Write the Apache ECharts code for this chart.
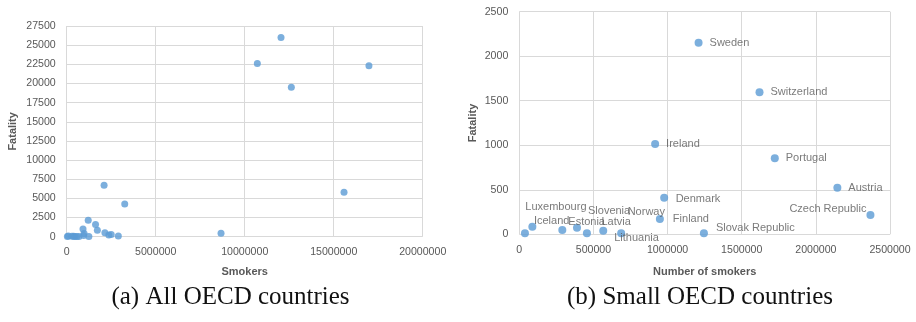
<!DOCTYPE html>
<html>
<head>
<meta charset="utf-8">
<script src="https://cdn.jsdelivr.net/npm/echarts@6/dist/echarts.min.js"></script>
<style>
html,body{margin:0;padding:0;background:#fff;}
#chart{width:916px;height:322px;}
</style>
</head>
<body>
<div id="chart"></div>
<script>
// ---- Data ----
// (b) Small OECD countries
const smallNames = ['Iceland','Luxembourg','Estonia','Slovenia','Latvia','Lithuania','Norway','Finland','Denmark','Slovak Republic','Ireland','Sweden','Switzerland','Portugal','Austria','Czech Republic'];
const smallSmokers = [38000, 88000, 290000, 389000, 456000, 566000, 687000, 948000, 977000, 1245000, 916000, 1209000, 1620000, 1723000, 2145000, 2368000];
const smallFatality = [12, 85, 48, 74, 12, 40, 12, 172, 411, 12, 1014, 2152, 1595, 854, 524, 217];
// (a) remaining OECD countries (unlabelled in the picture)
const otherSmokers = [12040000, 10710000, 12620000, 16980000, 15580000, 8670000, 2100000, 3260000, 2500000, 2900000];
const otherFatality = [26000, 22600, 19500, 22300, 5800, 440, 6700, 4270, 300, 100];
// Axis ticks
const leftX = {min: 0, max: 20000000, step: 5000000};
const leftY = {min: 0, max: 27500, step: 2500};
const rightX = {min: 0, max: 2500000, step: 500000};
const rightY = {min: 0, max: 2500, step: 500};
const captions = ['(a) All OECD countries', '(b) Small OECD countries'];

// ---- Layout / style (label nudges per point, in px) ----
const labelNudge = {
  'Iceland': {pos: 'right', off: [-2, -12.5]},
  'Luxembourg': {pos: 'right', off: [-18, -20]},
  'Estonia': {pos: 'right', off: [-5, -8]},
  'Slovenia': {pos: 'right', off: [0, -17]},
  'Latvia': {pos: 'right', off: [3.5, -11.5]},
  'Lithuania': {pos: 'right', off: [0, 7.5]},
  'Norway': {pos: 'right', off: [-4.5, -21.5]},
  'Finland': {pos: 'right', off: [2, 0]},
  'Denmark': {pos: 'right', off: [0.5, 1.5]},
  'Slovak Republic': {pos: 'right', off: [1, -5.5]},
  'Czech Republic': {pos: 'left', off: [7, -6.5]}
};
function nudge(name) { return labelNudge[name] || {pos: 'right', off: [0, 0]}; }

const FONT = 'Liberation Sans';
const GREY = '#595959';
const GRID = '#d9d9d9';
const DOT = '#5B9BD5';

function axis(gridIndex, sc, name, nameGap, isY) {
  return {
    gridIndex, type: 'value', min: sc.min, max: sc.max, interval: sc.step,
    name, nameLocation: 'middle', nameGap, nameRotate: isY ? 90 : 0,
    nameTextStyle: {fontFamily: FONT, fontSize: 11, fontWeight: 'bold', color: GREY},
    axisLine: {show: false}, axisTick: {show: false},
    axisLabel: {fontFamily: FONT, fontSize: 10.6, color: GREY, margin: isY ? 11 : 10,
      formatter: v => String(v), showMinLabel: true, showMaxLabel: true},
    splitLine: {show: true, lineStyle: {color: GRID, width: 1}}
  };
}

const allData = smallSmokers.map((x, i) => [x, smallFatality[i]])
  .concat(otherSmokers.map((x, i) => [x, otherFatality[i]]));

const smallData = smallSmokers.map((x, i) => ({
  value: [x, smallFatality[i]], name: smallNames[i],
  label: {position: nudge(smallNames[i]).pos}
}));

const chart = echarts.init(document.getElementById('chart'), null, {renderer: 'canvas'});
chart.setOption({
  animation: false,
  backgroundColor: '#fff',
  grid: [
    {left: 66.7, top: 26, width: 356, height: 210.7},
    {left: 519.3, top: 11.7, width: 370.7, height: 222.6}
  ],
  xAxis: [
    axis(0, leftX, 'Smokers', 30, false),
    axis(1, rightX, 'Number of smokers', 32, false)
  ],
  yAxis: [
    axis(0, leftY, 'Fatality', 48, true),
    axis(1, rightY, 'Fatality', 41, true)
  ],
  series: [
    {type: 'scatter', xAxisIndex: 0, yAxisIndex: 0, data: allData, symbolSize: 7,
     itemStyle: {color: DOT}},
    {type: 'scatter', xAxisIndex: 1, yAxisIndex: 1, data: smallData, symbolSize: 8,
     itemStyle: {color: DOT},
     label: {show: true, formatter: p => p.name, distance: 7,
       fontFamily: FONT, fontSize: 11, color: GREY},
     labelLayout: function (params) {
       const o = nudge(smallNames[params.dataIndex]).off;
       return {dx: o[0], dy: o[1], hideOverlap: false};
     }}
  ],
  graphic: captions.map((c, i) => ({
    type: 'text', x: i === 0 ? 230.5 : 700, y: 297,
    style: {text: c, fontFamily: 'Liberation Serif', fontSize: 25, fill: '#111',
      align: 'center', verticalAlign: 'middle'}
  }))
});
</script>
</body>
</html>
